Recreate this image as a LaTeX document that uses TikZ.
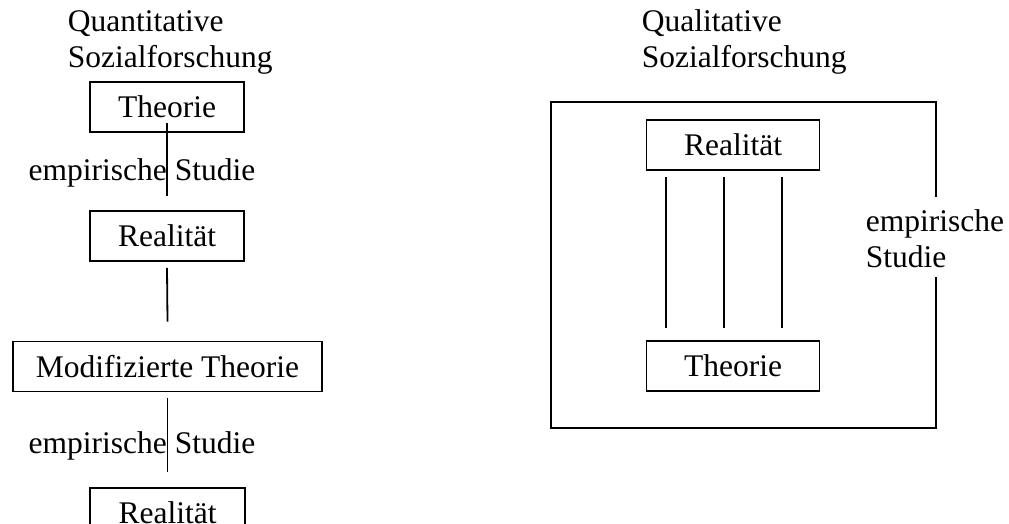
\documentclass[tikz,border=0pt]{standalone}
\usepackage{fontspec}
\setmainfont{Liberation Serif}

\begin{document}
\begin{tikzpicture}[x=1pt,y=-1pt,line width=1.8pt,
  box/.style={draw,minimum height=50pt,inner sep=0pt,font=\fontsize{31.5}{36}\selectfont},
  txt/.style={align=left,inner sep=0pt,font=\fontsize{31.5}{36}\selectfont}]

\path[use as bounding box,clip] (0,0) rectangle (1009,524);

% quantitative side
\node[txt,anchor=base west] (quant) at (67,68) {Quantitative\\Sozialforschung};

\node[box,minimum width=154pt] (theo1) at (167,107) {Theorie};
\node[box,minimum width=154pt] (real1) at (167,236) {Realität};
\node[box,minimum width=309pt] (mod) at (167.5,366.5) {Modifizierte Theorie};
\node[box,minimum width=155pt] (real2) at (167.5,513) {Realität};

\node[txt,anchor=base] (emp1) at (142,180) {empirische Studie};
\node[txt,anchor=base] (emp2) at (142,453) {empirische Studie};

\draw ([yshift=10pt]theo1.south) -- ([yshift=14pt]real1.north);
\draw ([yshift=-6pt]real1.south) -- ([yshift=19pt]mod.north);
\draw ([yshift=-6pt]mod.south) -- ([yshift=15pt]real2.north);

% qualitative side
\node[txt,anchor=base west] (qual) at (641,68) {Qualitative\\Sozialforschung};

\draw (936,197) -- (936,102) -- (551,102) -- (551,428) -- (936,428) -- (936,277);
\node[txt,anchor=base west] (emp3) at (865,267) {empirische\\Studie};

\node[box,minimum width=173pt] (rreal) at (733,145) {Realität};
\node[box,minimum width=173pt] (rtheo) at (733,366) {Theorie};

\foreach \dx in {-67,-9,49}
  \draw ([xshift=\dx pt,yshift=-6pt]rreal.south) -- ([xshift=\dx pt,yshift=12pt]rtheo.north);

\end{tikzpicture}
\end{document}
